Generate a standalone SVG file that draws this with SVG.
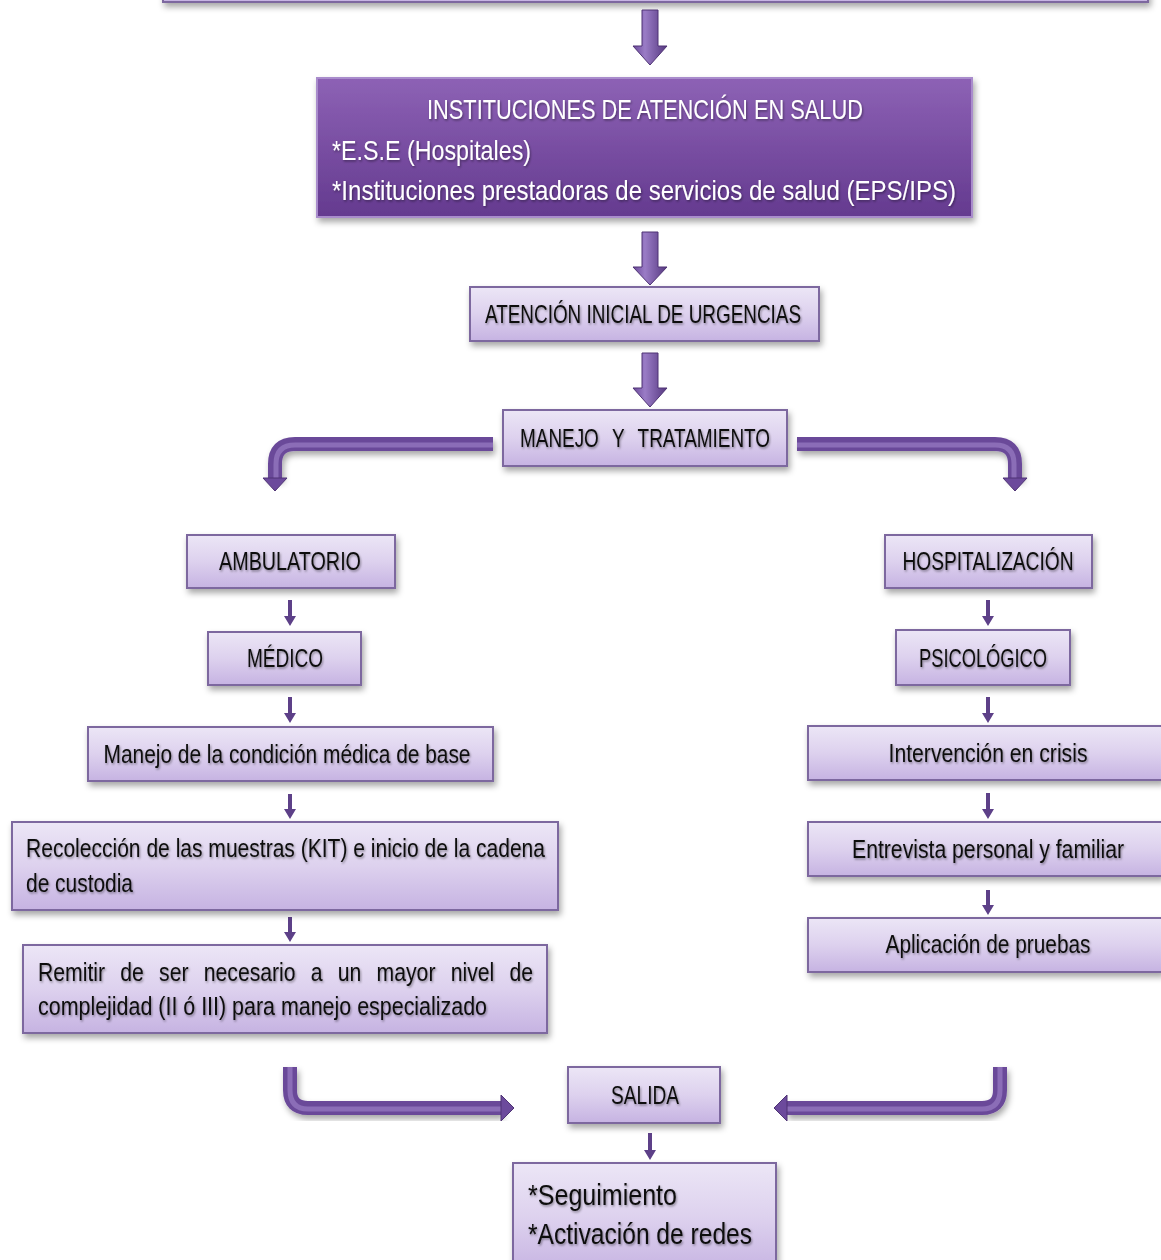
<svg xmlns="http://www.w3.org/2000/svg" width="1161" height="1260" viewBox="0 0 1161 1260">
<defs>
<linearGradient id="gLight" x1="0" y1="0" x2="0" y2="1">
<stop offset="0" stop-color="#ece6f6"/>
<stop offset="0.5" stop-color="#ddd1ee"/>
<stop offset="1" stop-color="#c6b3e2"/>
</linearGradient>
<linearGradient id="gDark" x1="0" y1="0" x2="0" y2="1">
<stop offset="0" stop-color="#8d62b5"/>
<stop offset="1" stop-color="#643a8f"/>
</linearGradient>
<linearGradient id="gArrowV" x1="0" y1="0" x2="1" y2="0">
<stop offset="0" stop-color="#6a4898"/>
<stop offset="0.35" stop-color="#9a7cc6"/>
<stop offset="1" stop-color="#55377f"/>
</linearGradient>
<filter id="sh" x="-10%" y="-20%" width="120%" height="150%">
<feDropShadow dx="2" dy="4" stdDeviation="3" flood-color="#000" flood-opacity="0.35"/>
</filter>
<filter id="tsh" x="-5%" y="-20%" width="110%" height="150%">
<feDropShadow dx="1" dy="1.5" stdDeviation="0.8" flood-color="#000" flood-opacity="0.4"/>
</filter>
</defs>
<style>
.box{fill:url(#gLight);stroke:#7d679f;stroke-width:2;filter:url(#sh)}
.dark{fill:url(#gDark);stroke:#a98ccc;stroke-width:2;filter:url(#sh)}
.t{font-family:"Liberation Sans Narrow","Liberation Sans",Arial,sans-serif;font-size:25px;fill:#111111;filter:url(#tsh)}
.tw{font-family:"Liberation Sans Narrow","Liberation Sans",Arial,sans-serif;font-size:28px;fill:#ffffff;filter:url(#tsh)}
.tb{font-size:29px}
.c{text-anchor:middle}
.ws{word-spacing:11px}
.big{fill:url(#gArrowV);stroke:#4e3374;stroke-width:1}
.sm{fill:#5d4088}
.bend{fill:none;stroke:#6a4899;stroke-width:14;filter:url(#sh)}
.bendhl{fill:none;stroke:#a68ad0;stroke-width:5;opacity:0.55}
.head{fill:#6c4a9c;stroke:#4e3374;stroke-width:1}
</style>

<g id="top-box">
<rect class="box" x="163" y="-60" width="985" height="62"/>
</g>

<g id="connectors">
<polygon class="big" points="642,10 658,10 658,46 667,46 650,65 633,46 642,46"/>
<polygon class="big" points="642,232 658,232 658,267 667,267 650,285 633,267 642,267"/>
<polygon class="big" points="642,353 658,353 658,388 667,388 650,407 633,388 642,388"/>
<path class="bend" d="M493,444 H295 Q275,444 275,464 V479"/>
<path class="bendhl" d="M493,445 H295 Q276,445 276,464 V479"/>
<polygon class="head" points="263,478 287,478 275,491"/>
<path class="bend" d="M797,444 H995 Q1015,444 1015,464 V479"/>
<path class="bendhl" d="M797,445 H995 Q1014,445 1014,464 V479"/>
<polygon class="head" points="1003,478 1027,478 1015,491"/>
<polygon class="sm" points="288,600 292,600 292,616 296,616 290,626 284,616 288,616"/>
<polygon class="sm" points="288,697 292,697 292,713 296,713 290,723 284,713 288,713"/>
<polygon class="sm" points="288,794 292,794 292,809 296,809 290,819 284,809 288,809"/>
<polygon class="sm" points="288,917 292,917 292,932 296,932 290,942 284,932 288,932"/>
<polygon class="sm" points="986,600 990,600 990,616 994,616 988,626 982,616 986,616"/>
<polygon class="sm" points="986,697 990,697 990,713 994,713 988,723 982,713 986,713"/>
<polygon class="sm" points="986,793 990,793 990,809 994,809 988,819 982,809 986,809"/>
<polygon class="sm" points="986,890 990,890 990,905 994,905 988,915 982,905 986,905"/>
<path class="bend" d="M290,1067 V1090 Q290,1108 308,1108 H502"/>
<path class="bendhl" d="M290,1067 V1090 Q290,1109 308,1109 H502"/>
<polygon class="head" points="501,1095 501,1121 514,1108"/>
<path class="bend" d="M1000,1067 V1090 Q1000,1108 982,1108 H786"/>
<path class="bendhl" d="M1000,1067 V1090 Q1000,1109 982,1109 H786"/>
<polygon class="head" points="787,1095 787,1121 774,1108"/>
<polygon class="sm" points="648,1133 652,1133 652,1150 656,1150 650,1160 644,1150 648,1150"/>
</g>

<g id="instituciones">
<rect class="dark" x="317" y="78" width="655" height="139"/>
<text class="tw c" x="645" y="119" textLength="436" lengthAdjust="spacingAndGlyphs">INSTITUCIONES DE ATENCIÓN EN SALUD</text>
<text class="tw" x="332" y="160" textLength="199" lengthAdjust="spacingAndGlyphs">*E.S.E (Hospitales)</text>
<text class="tw" x="332" y="200" textLength="624" lengthAdjust="spacingAndGlyphs">*Instituciones prestadoras de servicios de salud (EPS/IPS)</text>
</g>

<g id="atencion">
<rect class="box" x="470" y="287" width="349" height="54"/>
<text class="t c" x="643" y="323" textLength="316" lengthAdjust="spacingAndGlyphs">ATENCIÓN INICIAL DE URGENCIAS</text>
</g>

<g id="manejo">
<rect class="box" x="503" y="410" width="284" height="56"/>
<text class="t c ws" x="645" y="447" textLength="250" lengthAdjust="spacingAndGlyphs">MANEJO Y TRATAMIENTO</text>
</g>

<g id="ambulatorio">
<rect class="box" x="187" y="535" width="208" height="53"/>
<text class="t c" x="290" y="570" textLength="142" lengthAdjust="spacingAndGlyphs">AMBULATORIO</text>
</g>

<g id="medico">
<rect class="box" x="208" y="632" width="153" height="53"/>
<text class="t c" x="285" y="667" textLength="76" lengthAdjust="spacingAndGlyphs">MÉDICO</text>
</g>

<g id="manejo-condicion">
<rect class="box" x="88" y="727" width="405" height="54"/>
<text class="t c" x="287" y="763" textLength="367" lengthAdjust="spacingAndGlyphs">Manejo de la condición médica de base</text>
</g>

<g id="recoleccion">
<rect class="box" x="12" y="822" width="546" height="88"/>
<text class="t" x="26" y="857" textLength="519" lengthAdjust="spacingAndGlyphs">Recolección de las muestras (KIT)  e inicio de la cadena</text>
<text class="t" x="26" y="892" textLength="107" lengthAdjust="spacingAndGlyphs">de custodia</text>
</g>

<g id="remitir">
<rect class="box" x="23" y="945" width="524" height="88"/>
<text class="t ws" x="38" y="981" textLength="495" lengthAdjust="spacingAndGlyphs">Remitir de ser necesario a un mayor nivel de</text>
<text class="t" x="38" y="1015" textLength="449" lengthAdjust="spacingAndGlyphs">complejidad  (II ó III)  para manejo especializado</text>
</g>

<g id="hospitalizacion">
<rect class="box" x="885" y="535" width="207" height="53"/>
<text class="t c" x="988" y="570" textLength="171" lengthAdjust="spacingAndGlyphs">HOSPITALIZACIÓN</text>
</g>

<g id="psicologico">
<rect class="box" x="896" y="630" width="174" height="55"/>
<text class="t c" x="983" y="667" textLength="128" lengthAdjust="spacingAndGlyphs">PSICOLÓGICO</text>
</g>

<g id="intervencion">
<rect class="box" x="808" y="726" width="354" height="54"/>
<text class="t c" x="988" y="762" textLength="199" lengthAdjust="spacingAndGlyphs">Intervención en crisis</text>
</g>

<g id="entrevista">
<rect class="box" x="808" y="822" width="354" height="54"/>
<text class="t c" x="988" y="858" textLength="272" lengthAdjust="spacingAndGlyphs">Entrevista personal y familiar</text>
</g>

<g id="aplicacion">
<rect class="box" x="808" y="918" width="354" height="54"/>
<text class="t c" x="988" y="953" textLength="205" lengthAdjust="spacingAndGlyphs">Aplicación de pruebas</text>
</g>

<g id="salida">
<rect class="box" x="568" y="1067" width="152" height="56"/>
<text class="t c" x="645" y="1104" textLength="68" lengthAdjust="spacingAndGlyphs">SALIDA</text>
</g>

<g id="seguimiento">
<rect class="box" x="513" y="1163" width="263" height="110"/>
<text class="t tb" x="528" y="1205" textLength="149" lengthAdjust="spacingAndGlyphs">*Seguimiento</text>
<text class="t tb" x="528" y="1244" textLength="224" lengthAdjust="spacingAndGlyphs">*Activación de redes</text>
</g>
</svg>
